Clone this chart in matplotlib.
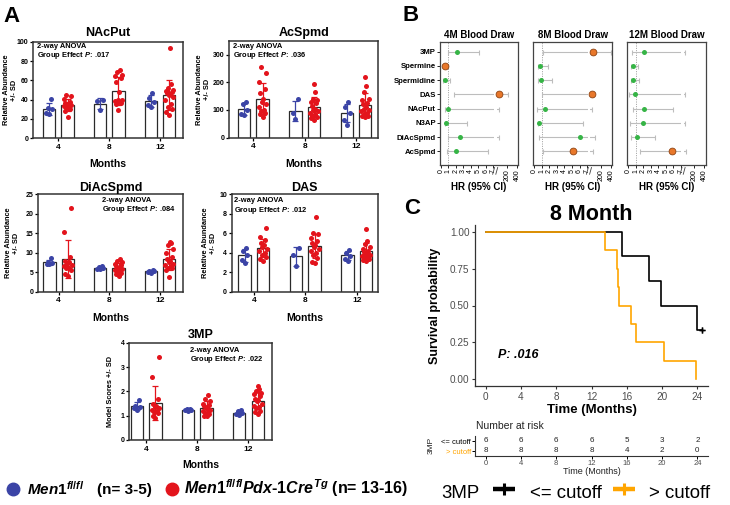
import numpy as np
import matplotlib
matplotlib.use("Agg")
import matplotlib.pyplot as plt
from matplotlib.lines import Line2D
from matplotlib.patches import Rectangle
from matplotlib.ticker import NullLocator

plt.rcParams['font.family'] = ['Liberation Sans', 'DejaVu Sans']
plt.rcParams['mathtext.fontset'] = 'custom'
plt.rcParams['mathtext.it'] = 'Liberation Sans:italic:bold'
plt.rcParams['mathtext.rm'] = 'Liberation Sans:bold'
plt.rcParams['mathtext.bf'] = 'Liberation Sans:bold'
plt.rcParams['axes.unicode_minus'] = False

W, H = 730, 505
fig = plt.figure(figsize=(W / 100, H / 100), dpi=100)


def px_axes(x0, y0, x1, y1):
    return fig.add_axes([x0 / W, 1 - y1 / H, (x1 - x0) / W, (y1 - y0) / H])


def fig_text(x, y, s, **kw):
    return fig.text(x / W, 1 - y / H, s, **kw)

# ---------------- Panel A data ----------------
months = ['4', '8', '12']

nacput_wt = [[41, 31, 30, 26, 25], [40, 39, 29], [47, 42, 38, 34, 32]]
nacput_ko = [[45, 44, 41, 38, 37, 36, 35, 34, 33, 32, 31, 30, 28, 22],
             [71, 69, 66, 65, 62, 58, 48, 40, 40, 39, 38, 38, 37, 36, 29],
             [93, 56, 52, 50, 49, 48, 47, 46, 45, 43, 40, 36, 32, 30, 27, 24]]
acspmd_wt = [[128, 122, 100, 85, 82], [138, 88, 68], [128, 110, 90, 65, 47]]
acspmd_ko = [[255, 235, 200, 175, 160, 140, 130, 120, 110, 100, 95, 90, 85, 75],
             [195, 165, 140, 135, 130, 125, 115, 105, 100, 95, 90, 85, 80, 75, 70, 65],
             [220, 185, 165, 140, 135, 125, 120, 110, 105, 100, 95, 90, 85, 80, 78, 75]]
diacspmd_wt = [[8.6, 7.5, 7.3, 7.2, 7.0], [6.5, 6.3, 6.1, 5.9, 5.8], [5.6, 5.4, 5.2, 5.1, 4.9]]
diacspmd_ko = [[21.6, 15.3, 9.0, 8.0, 7.5, 7.0, 6.8, 6.5, 6.2, 6.0, 5.5, 4.5, 4.0],
               [8.3, 8.0, 7.5, 7.0, 6.8, 6.5, 6.2, 6.0, 5.8, 5.5, 5.2, 5.0, 4.8, 4.5, 4.0],
               [12.8, 12.5, 12.0, 11.0, 10.0, 9.0, 8.5, 8.0, 7.5, 7.0, 6.8, 6.5, 6.2, 6.0, 5.5, 3.8]]
das_wt = [[4.5, 4.2, 3.8, 3.3, 2.9], [4.5, 3.8, 2.6], [4.3, 4.0, 3.7, 3.4, 3.2]]
das_ko = [[6.5, 5.6, 5.3, 5.0, 4.8, 4.6, 4.4, 4.2, 4.0, 3.8, 3.6, 3.4, 3.2],
          [7.7, 6.0, 5.9, 5.5, 5.2, 5.0, 4.8, 4.6, 4.4, 4.2, 4.0, 3.8, 3.5, 3.0, 2.9],
          [6.4, 5.2, 4.9, 4.6, 4.4, 4.2, 4.1, 4.0, 3.9, 3.8, 3.7, 3.6, 3.5, 3.4, 3.3, 3.2]]
mp3_wt = [[1.65, 1.40, 1.35, 1.30, 1.25], [1.28, 1.26, 1.24, 1.22, 1.18], [1.22, 1.18, 1.12, 1.08, 1.02]]
mp3_ko = [[3.4, 2.6, 1.7, 1.5, 1.4, 1.35, 1.3, 1.25, 1.2, 1.15, 1.1, 1.0, 0.9],
          [1.85, 1.7, 1.6, 1.5, 1.45, 1.4, 1.35, 1.3, 1.25, 1.2, 1.15, 1.1, 1.05, 1.0, 0.98],
          [2.2, 2.1, 2.0, 1.95, 1.9, 1.8, 1.7, 1.65, 1.6, 1.5, 1.4, 1.35, 1.3, 1.2, 1.15, 1.05]]

# ---------------- Panel B data ----------------
markers = ['3MP', 'Spermine', 'Spermidine', 'DAS', 'NAcPut', 'N3AP', 'DiAcSpmd', 'AcSpmd']
hr_4m = [2.2, 0.6, 0.5, 36, 0.96, 0.62, 2.5, 2.05]
lo_4m = [0.96, 0.35, 0.3, 1.75, 0.6, 0.5, 0.97, 0.75]
hi_4m = [5.1, 0.95, 1.27, 223, 51, 3.45, 41, 6.25]
hr_8m = [41, 0.79, 0.92, 29, 1.44, 0.66, 6.0, 5.2]
lo_8m = [1.18, 0.44, 0.44, 1.05, 0.36, 0.44, 0.57, 1.2]
hi_8m = [393, 1.83, 2.32, 45, 26, 6.4, 96, 51]
hr_12m = [2.1, 0.66, 0.66, 0.92, 2.1, 1.97, 1.14, 5.9]
lo_12m = [0.48, 0.33, 0.33, 0.05, 0.66, 0.26, 0.33, 1.57]
hi_12m = [16, 1.31, 1.44, 16, 6.03, 16, 3.63, 37]
hr_ticks = [0, 1, 2, 3, 4, 5, 6, 7, 200, 400]

# ---------------- Panel C data ----------------
low_times = [15.4, 18.5, 19.9, 23.9, 24.5, 24.5]
low_events = [1, 1, 1, 1, 0, 0]
high_times = [13.5, 14.9, 15.0, 15.1, 16.5, 17.0, 20.2, 23.8]
high_events = [1, 1, 1, 1, 1, 1, 1, 1]
risk_times = [0, 4, 8, 12, 16, 20, 24]

BLUE = '#3B44A6'
RED = '#E3141C'
ORANGE = '#FFA500'

# ================= Panel A =================
jit = [0.0, -0.055, 0.055, -0.03, 0.03, -0.075, 0.075, -0.015, 0.015,
       -0.045, 0.045, -0.065, 0.065, -0.025, 0.025, 0.005]


def bar_panel(box, xlim, wt, ko, title, ylim, yticks, ylabel, ylab_x,
              anova, anova_xy, title_pad, months_y):
    ax = px_axes(*box)
    for gi in range(3):
        for vals, off, col in ((wt[gi], -0.18, BLUE), (ko[gi], 0.18, RED)):
            v = np.sort(np.asarray(vals, float))
            m, sd = v.mean(), v.std(ddof=1)
            ax.bar(gi + off, m, width=0.24, color='white', edgecolor='#2a2a2a',
                   linewidth=0.9, zorder=1)
            xs = gi + off + np.array([jit[k % len(jit)] for k in range(len(v))])
            ax.scatter(xs, v, s=13, color=col, linewidths=0, zorder=2)
            ax.errorbar(gi + off, m, yerr=sd, color=col, capsize=2.3, elinewidth=0.9,
                        capthick=0.9, zorder=3)
    ax.set_xlim(*xlim)
    ax.set_ylim(*ylim)
    ax.set_yticks(yticks)
    ax.set_xticks([0, 1, 2])
    ax.set_xticklabels(months)
    for lab in ax.get_yticklabels():
        lab.set_fontweight('bold')
    for lab in ax.get_xticklabels():
        lab.set_fontweight('bold')
    ax.tick_params(axis='y', labelsize=5, length=2.5, width=0.9, pad=1)
    ax.tick_params(axis='x', labelsize=6, length=2.5, width=0.9, pad=1.5)
    for sp in ax.spines.values():
        sp.set_linewidth(1.1)
        sp.set_color('#333333')
    ax.set_title(title, fontsize=9, fontweight='bold', pad=title_pad)
    ax.text(ylab_x, 0.5, ylabel, transform=ax.transAxes, rotation=90, ha='center',
            va='center', fontsize=5.3, fontweight='bold', multialignment='center',
            linespacing=1.2)
    ax.text(anova_xy[0], anova_xy[1], anova, transform=ax.transAxes, ha='left', va='top',
            fontsize=5.4, fontweight='bold', linespacing=1.05)
    ax.text(0.5, months_y, 'Months', transform=ax.transAxes, ha='center', va='center',
            fontsize=7.5, fontweight='bold')
    return ax


RA = 'Relative Abundance\n+/- SD'
bar_panel((33, 41.7, 183, 138.3), (-0.50, 2.45), nacput_wt, nacput_ko, 'NAcPut', (0, 100),
          [0, 20, 40, 60, 80, 100], RA, -0.147,
          '2-way ANOVA\nGroup Effect $\\mathit{P}$: .017', (0.029, 0.985), 4.0, -0.266)
bar_panel((229.3, 40.7, 378, 137.7), (-0.47, 2.43), acspmd_wt, acspmd_ko, 'AcSpmd', (0, 350),
          [0, 100, 200, 300], RA, -0.173,
          '2-way ANOVA\nGroup Effect $\\mathit{P}$: .036', (0.023, 0.975), 3.4, -0.27)
bar_panel((38.3, 194.3, 183, 291.7), (-0.40, 2.45), diacspmd_wt, diacspmd_ko, 'DiAcSpmd', (0, 25),
          [0, 5, 10, 15, 20, 25], RA, -0.18,
          '2-way ANOVA\nGroup Effect $\\mathit{P}$: .084', (0.438, 0.975), 2.0, -0.27)
bar_panel((231.7, 194.3, 378, 291.7), (-0.43, 2.41), das_wt, das_ko, 'DAS', (0, 10),
          [0, 2, 4, 6, 8, 10], RA, -0.15,
          '2-way ANOVA\nGroup Effect $\\mathit{P}$: .012', (0.018, 0.97), 2.4, -0.27)
bar_panel((129.3, 342.7, 272, 440), (-0.33, 2.46), mp3_wt, mp3_ko, '3MP', (0, 4),
          [0, 1, 2, 3, 4], 'Model Scores +/- SD', -0.13,
          '2-way ANOVA\nGroup Effect $\\mathit{P}$: .022', (0.425, 0.96), 3.2, -0.257)

# legend for panel A
fig.add_artist(Line2D([12.7 / W], [1 - 488.7 / H], transform=fig.transFigure, marker='o',
                      ms=9, color=BLUE, ls=''))
fig.add_artist(Line2D([171.7 / W], [1 - 488.7 / H], transform=fig.transFigure, marker='o',
                      ms=9, color=RED, ls=''))
fig_text(26.7, 494.3, r'$\mathit{Men1}^{\mathit{fl/fl}}$', fontsize=11, va='baseline')
fig_text(96.7, 494.3, '(n= 3-5)', fontsize=11, fontweight='bold', va='baseline')
fig_text(184.3, 494.3,
         r'$\mathit{Men1}^{\mathit{fl/fl}}\mathit{Pdx}$-$\mathit{1Cre}^{\mathit{Tg}}$ (n= 13-16)',
         fontsize=11.5, fontweight='bold', va='baseline')

# ================= Panel B =================
S = 0.006743


def brk_fwd(x):
    x = np.asarray(x, dtype=float)
    return np.where(x <= 7, x, 7.5 + (x - 7) * S)


def brk_inv(u):
    u = np.asarray(u, dtype=float)
    return np.where(u <= 7, u, np.where(u < 7.5, 7.0, 7 + (u - 7.5) / S))


def forest(box, hr, lo, hi, title, show_labels):
    ax = px_axes(*box)
    ax.set_xscale('function', functions=(brk_fwd, brk_inv))
    XL = (-0.12, 422)
    ax.set_xlim(*XL)
    ax.set_ylim(7.95, -0.7)
    y = np.arange(len(markers))
    hr, lo, hi = (np.asarray(a, float) for a in (hr, lo, hi))
    ax.axvline(1, color='#9a9a9a', lw=0.7, ls=(0, (1, 1.4)), zorder=0)
    ax.errorbar(hr, y, xerr=[hr - lo, hi - hr], fmt='none', ecolor='#BDBDBD',
                elinewidth=0.8, capsize=1.8, capthick=0.8, zorder=1)
    u0, u1 = float(brk_fwd(XL[0])), float(brk_fwd(XL[1]))
    f0 = (7.06 - u0) / (u1 - u0)
    f1 = (7.44 - u0) / (u1 - u0)
    ax.add_patch(Rectangle((f0, 0.003), f1 - f0, 0.994, transform=ax.transAxes,
                           facecolor='white', edgecolor='none', zorder=1.5))
    sig = (lo > 1) | (hi < 1)
    ax.scatter(hr[~sig], y[~sig], s=13, color='#36B446', linewidths=0, zorder=3)
    ax.scatter(hr[sig], y[sig], s=24, color='#E8772A', edgecolors='#8E4312',
               linewidths=0.6, zorder=3)
    ax.set_xticks(hr_ticks)
    ax.set_xticklabels([str(t) for t in hr_ticks], rotation=90, fontsize=5)
    ax.xaxis.set_minor_locator(NullLocator())
    ax.tick_params(axis='x', length=2, width=0.6, pad=1)
    ax.set_yticks(y)
    if show_labels:
        ax.set_yticklabels(markers, fontsize=5.6, fontweight='bold')
        ax.tick_params(axis='y', length=2, width=0.6, pad=1)
    else:
        ax.set_yticklabels([])
        ax.tick_params(axis='y', length=0)
    for sp in ax.spines.values():
        sp.set_linewidth(0.9)
        sp.set_color('#444444')
    fb = (7.25 - u0) / (u1 - u0)
    for dx in (-0.02, 0.02):
        ax.plot([fb + dx - 0.012, fb + dx + 0.012], [-0.075, -0.02], transform=ax.transAxes,
                color='#444444', lw=0.6, clip_on=False)
    ax.set_title(title, fontsize=7, fontweight='bold', pad=2.9)
    ax.text(0.5, -(190 - 165) / 123.3, 'HR (95% CI)', transform=ax.transAxes,
            ha='center', va='baseline', fontsize=7, fontweight='bold')
    return ax


forest((440, 41.7, 518, 165), hr_4m, lo_4m, hi_4m, '4M Blood Draw', True)
forest((533.3, 41.7, 612, 165), hr_8m, lo_8m, hi_8m, '8M Blood Draw', False)
forest((627.3, 41.7, 705.5, 165), hr_12m, lo_12m, hi_12m, '12M Blood Draw', False)

# ================= Panel C =================


def km_steps(times, events):
    t = np.asarray(times, float)
    e = np.asarray(events, int)
    xs, ys = [0.0], [1.0]
    s = 1.0
    for ut in np.unique(t[e == 1]):
        n = (t >= ut).sum()
        d = ((t == ut) & (e == 1)).sum()
        s *= (1 - d / n)
        xs.append(ut)
        ys.append(s)
    xs.append(t.max())
    ys.append(s)
    return np.array(xs), np.array(ys)


kax = px_axes(475, 224.6, 708, 386.4)
GREYTXT = '#4D4D4D'
for times, events, col in ((low_times, low_events, 'black'), (high_times, high_events, ORANGE)):
    xs, ys = km_steps(times, events)
    kax.step(xs, ys, where='post', color=col, lw=1.2)
    t = np.asarray(times, float)
    e = np.asarray(events, int)
    cens = t[e == 0]
    if len(cens):
        sv = [ys[np.searchsorted(xs, c, side='right') - 1] for c in cens]
        kax.plot(cens, sv, ls='', marker='+', ms=5, mew=1.0, color=col)
kax.set_xlim(-1.2, 25.2)
kax.set_ylim(-0.05, 1.05)
kax.set_xticks(risk_times)
kax.set_yticks([0, 0.25, 0.5, 0.75, 1.0])
kax.set_yticklabels(['0.00', '0.25', '0.50', '0.75', '1.00'])
kax.spines['top'].set_visible(False)
kax.spines['right'].set_visible(False)
for sp in ('left', 'bottom'):
    kax.spines[sp].set_color('#333333')
    kax.spines[sp].set_linewidth(0.9)
kax.tick_params(labelsize=7.2, labelcolor=GREYTXT, color='#333333', length=2.5, width=0.8, pad=1.5)
kax.set_title('8 Month', fontsize=15.5, fontweight='bold', pad=2.8)
kax.text(-0.172, 0.5, 'Survival probability', transform=kax.transAxes, rotation=90,
         ha='center', va='center', fontsize=9, fontweight='bold')
kax.text(0.5, -(413.5 - 386.4) / 161.8, 'Time (Months)', transform=kax.transAxes,
         ha='center', va='baseline', fontsize=9.5, fontweight='bold')
kax.text(1.37, 0.146, 'P: .016', fontsize=9, fontweight='bold', fontstyle='italic',
         va='baseline', ha='left')

# risk table
rax = px_axes(475, 436, 708, 456)
rax.set_xlim(-1.2, 25.2)
rax.set_ylim(0, 2)
rax.set_xticks(risk_times)
rax.set_yticks([1.5, 0.5])
rax.set_yticklabels(['<= cutoff', '> cutoff'])
for lab, col in zip(rax.get_yticklabels(), ['black', ORANGE]):
    lab.set_color(col)
rax.tick_params(axis='y', labelsize=5.5, length=2, width=0.7, pad=1)
rax.tick_params(axis='x', labelsize=5.5, labelcolor=GREYTXT, length=2, width=0.7, pad=1)
rax.spines['top'].set_visible(False)
rax.spines['right'].set_visible(False)
for sp in ('left', 'bottom'):
    rax.spines[sp].set_color('#333333')
    rax.spines[sp].set_linewidth(0.8)
for times, yrow in ((low_times, 1.5), (high_times, 0.5)):
    t = np.asarray(times, float)
    for rt in risk_times:
        rax.text(rt, yrow, str(int((t >= rt).sum())), ha='center', va='center',
                 fontsize=5.8, color='#222222')
rax.text(0.5, -(474 - 456) / 20, 'Time (Months)', transform=rax.transAxes, ha='center',
         va='baseline', fontsize=6.5, color='#222222')
rax.text(-0.189, 0.55, '3MP', transform=rax.transAxes, rotation=90, ha='center',
         va='center', fontsize=6, color='#222222')
fig_text(476, 429, 'Number at risk', fontsize=7.5, va='baseline', color='#222222')

# legend for panel C
fig_text(441.7, 497.7, '3MP', fontsize=13.4, va='baseline')
for x0, col in ((493, 'black'), (613, ORANGE)):
    fig.add_artist(Line2D([x0 / W, (x0 + 22) / W], [1 - 489 / H] * 2, transform=fig.transFigure,
                          color=col, lw=3.2, solid_capstyle='butt'))
    fig.add_artist(Line2D([(x0 + 11) / W], [1 - 489 / H], transform=fig.transFigure,
                          color=col, marker='+', ms=9, mew=2.2, ls=''))
fig_text(530, 497.7, '<= cutoff', fontsize=13.4, va='baseline')
fig_text(649, 497.7, '> cutoff', fontsize=13.4, va='baseline')

# panel letters
fig_text(3, 21.7, 'A', fontsize=16, fontweight='bold', va='baseline')
fig_text(403, 20.7, 'B', fontsize=16, fontweight='bold', va='baseline')
fig_text(404, 214.3, 'C', fontsize=16, fontweight='bold', va='baseline')

fig.savefig('out.png', dpi=100)
